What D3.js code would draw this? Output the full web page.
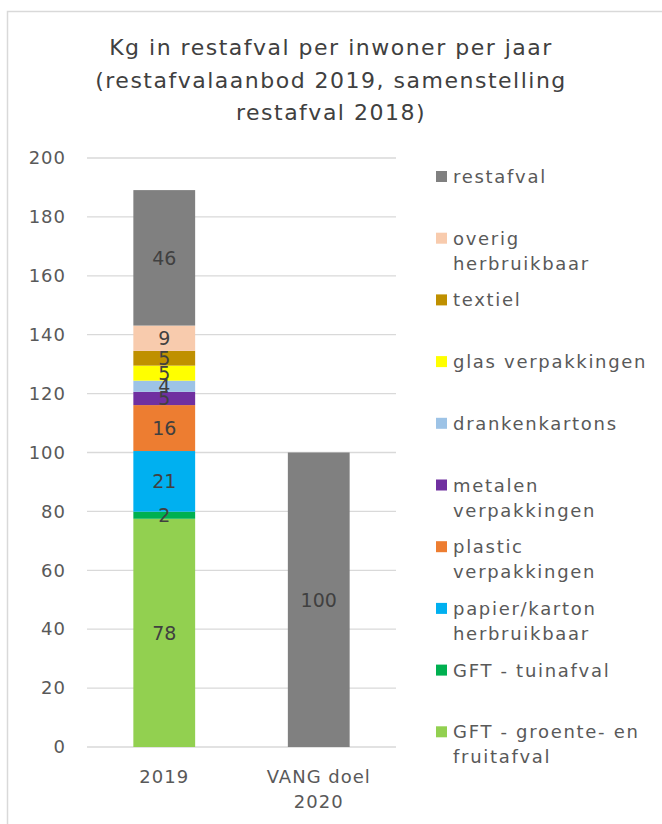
<!DOCTYPE html>
<html>
<head>
<meta charset="utf-8">
<script src="https://cdn.jsdelivr.net/npm/d3@7"></script>
<style>
  body { margin: 0; background: #fff; }
  svg text { font-family: "DejaVu Sans", sans-serif; }
</style>
</head>
<body>
<div id="chart"></div>
<script>
// categories on the x axis (label lines)
var categories = ["2019", "VANG doel 2020"];
var categoryLines = [["2019"], ["VANG doel", "2020"]];

// stacked series, bottom to top
var seriesNames = [
    "GFT - groente- en fruitafval", "GFT - tuinafval", "papier/karton herbruikbaar",
    "plastic verpakkingen", "metalen verpakkingen", "drankenkartons",
    "glas verpakkingen", "textiel", "overig herbruikbaar", "restafval"
];
var seriesColors = [
    "#92d050", "#00b050", "#00b0f0", "#ed7d31", "#7030a0",
    "#9dc3e6", "#ffff00", "#bf9000", "#f8cbad", "#808080"
];
// legend labels, broken over lines like the original
var legendLines = [
    ["restafval"], ["overig", "herbruikbaar"], ["textiel"], ["glas verpakkingen"],
    ["drankenkartons"], ["metalen", "verpakkingen"], ["plastic", "verpakkingen"],
    ["papier/karton", "herbruikbaar"], ["GFT - tuinafval"], ["GFT - groente- en", "fruitafval"]
];

// values per category, same order as seriesNames
var values2019 = [77.5, 2.4, 20.6, 15.6, 4.5, 3.8, 5.1, 5.0, 8.6, 46.0];
var valuesVang = [0, 0, 0, 0, 0, 0, 0, 0, 0, 100];

var yTicks = [0, 20, 40, 60, 80, 100, 120, 140, 160, 180, 200];

var width = 662, height = 824;
var plotLeft = 87, plotRight = 396, plotTop = 158, plotBottom = 747;

var svg = d3.select("#chart").append("svg")
    .attr("width", width).attr("height", height);

// outer frame
svg.append("rect")
    .attr("x", 7.5).attr("y", 11.5)
    .attr("width", 700).attr("height", 900)
    .attr("fill", "none").attr("stroke", "#d9d9d9").attr("stroke-width", 1.5);

// title
var titleLines = ["Kg in restafval per inwoner per jaar", "(restafvalaanbod 2019, samenstelling", "restafval 2018)"];
svg.append("g").selectAll("text")
    .data(titleLines).enter().append("text")
    .attr("x", 331)
    .attr("y", (d, i) => 55 + i * 32.5)
    .attr("text-anchor", "middle")
    .attr("font-size", "22px")
    .attr("letter-spacing", "1.5px")
    .attr("fill", "#404040")
    .text(d => d);

var x = d3.scaleBand().domain(categories).range([plotLeft, plotRight])
    .paddingInner(0.6).paddingOuter(0.3);
var y = d3.scaleLinear().domain([0, 200]).range([plotBottom, plotTop]);

// gridlines
svg.append("g").selectAll("line")
    .data(yTicks).enter().append("line")
    .attr("x1", plotLeft).attr("x2", plotRight)
    .attr("y1", d => y(d)).attr("y2", d => y(d))
    .attr("stroke", "#d9d9d9").attr("stroke-width", 1.3);

// y axis labels
var yAxis = svg.append("g")
    .attr("transform", `translate(${plotLeft},0)`)
    .call(d3.axisLeft(y).tickValues(yTicks).tickSize(0).tickPadding(21));
yAxis.select(".domain").remove();
yAxis.selectAll("text")
    .attr("font-size", "18px")
    .attr("letter-spacing", "1px")
    .attr("fill", "#595959")
    .style("font-family", "DejaVu Sans, sans-serif");

// stacked data
var table = categories.map((c, i) => {
    var row = { category: c };
    var vals = i == 0 ? values2019 : valuesVang;
    seriesNames.forEach((s, j) => { row[s] = vals[j]; });
    return row;
});
var stacked = d3.stack().keys(seriesNames)(table);

var layers = svg.append("g").selectAll("g")
    .data(stacked).enter().append("g")
    .attr("fill", (d, i) => seriesColors[i]);

layers.selectAll("rect")
    .data(d => d.filter(p => p[1] - p[0] > 0)).enter().append("rect")
    .attr("x", d => x(d.data.category))
    .attr("width", x.bandwidth())
    .attr("y", d => y(d[1]))
    .attr("height", d => y(d[0]) - y(d[1]));

// data labels
var labels = [];
stacked.forEach(layer => {
    layer.forEach(p => {
        if (p[1] - p[0] > 0) labels.push({ cat: p.data.category, mid: (p[0] + p[1]) / 2, v: p[1] - p[0] });
    });
});
svg.append("g").selectAll("text")
    .data(labels).enter().append("text")
    .attr("x", d => x(d.cat) + x.bandwidth() / 2)
    .attr("y", d => y(d.mid))
    .attr("dy", "0.36em")
    .attr("text-anchor", "middle")
    .attr("font-size", "19px")
    .attr("fill", "#404040")
    .text(d => Math.round(d.v));

// x axis labels
var xg = svg.append("g").selectAll("text")
    .data(categories).enter().append("text")
    .attr("x", d => x(d) + x.bandwidth() / 2)
    .attr("y", 783)
    .attr("text-anchor", "middle")
    .attr("font-size", "18px")
    .attr("letter-spacing", "1px")
    .attr("fill", "#595959");
xg.selectAll("tspan")
    .data((d, i) => categoryLines[i]).enter().append("tspan")
    .attr("x", function () { return d3.select(this.parentNode).attr("x"); })
    .attr("dy", (d, i) => i == 0 ? 0 : 25)
    .text(d => d);

// legend, top entry is the top series
var legendColors = seriesColors.slice().reverse();
var legend = svg.append("g").selectAll("g")
    .data(legendLines).enter().append("g")
    .attr("transform", (d, i) => `translate(436,${176.5 + i * 61.7})`);
legend.append("rect")
    .attr("x", 0).attr("y", -5.5)
    .attr("width", 11).attr("height", 11)
    .attr("fill", (d, i) => legendColors[i]);
var lt = legend.append("text")
    .attr("x", 17).attr("y", 6.5)
    .attr("font-size", "18px")
    .attr("letter-spacing", "1.7px")
    .attr("fill", "#595959");
lt.selectAll("tspan")
    .data(d => d).enter().append("tspan")
    .attr("x", 17)
    .attr("dy", (d, i) => i == 0 ? 0 : 25)
    .text(d => d);
</script>
</body>
</html>
